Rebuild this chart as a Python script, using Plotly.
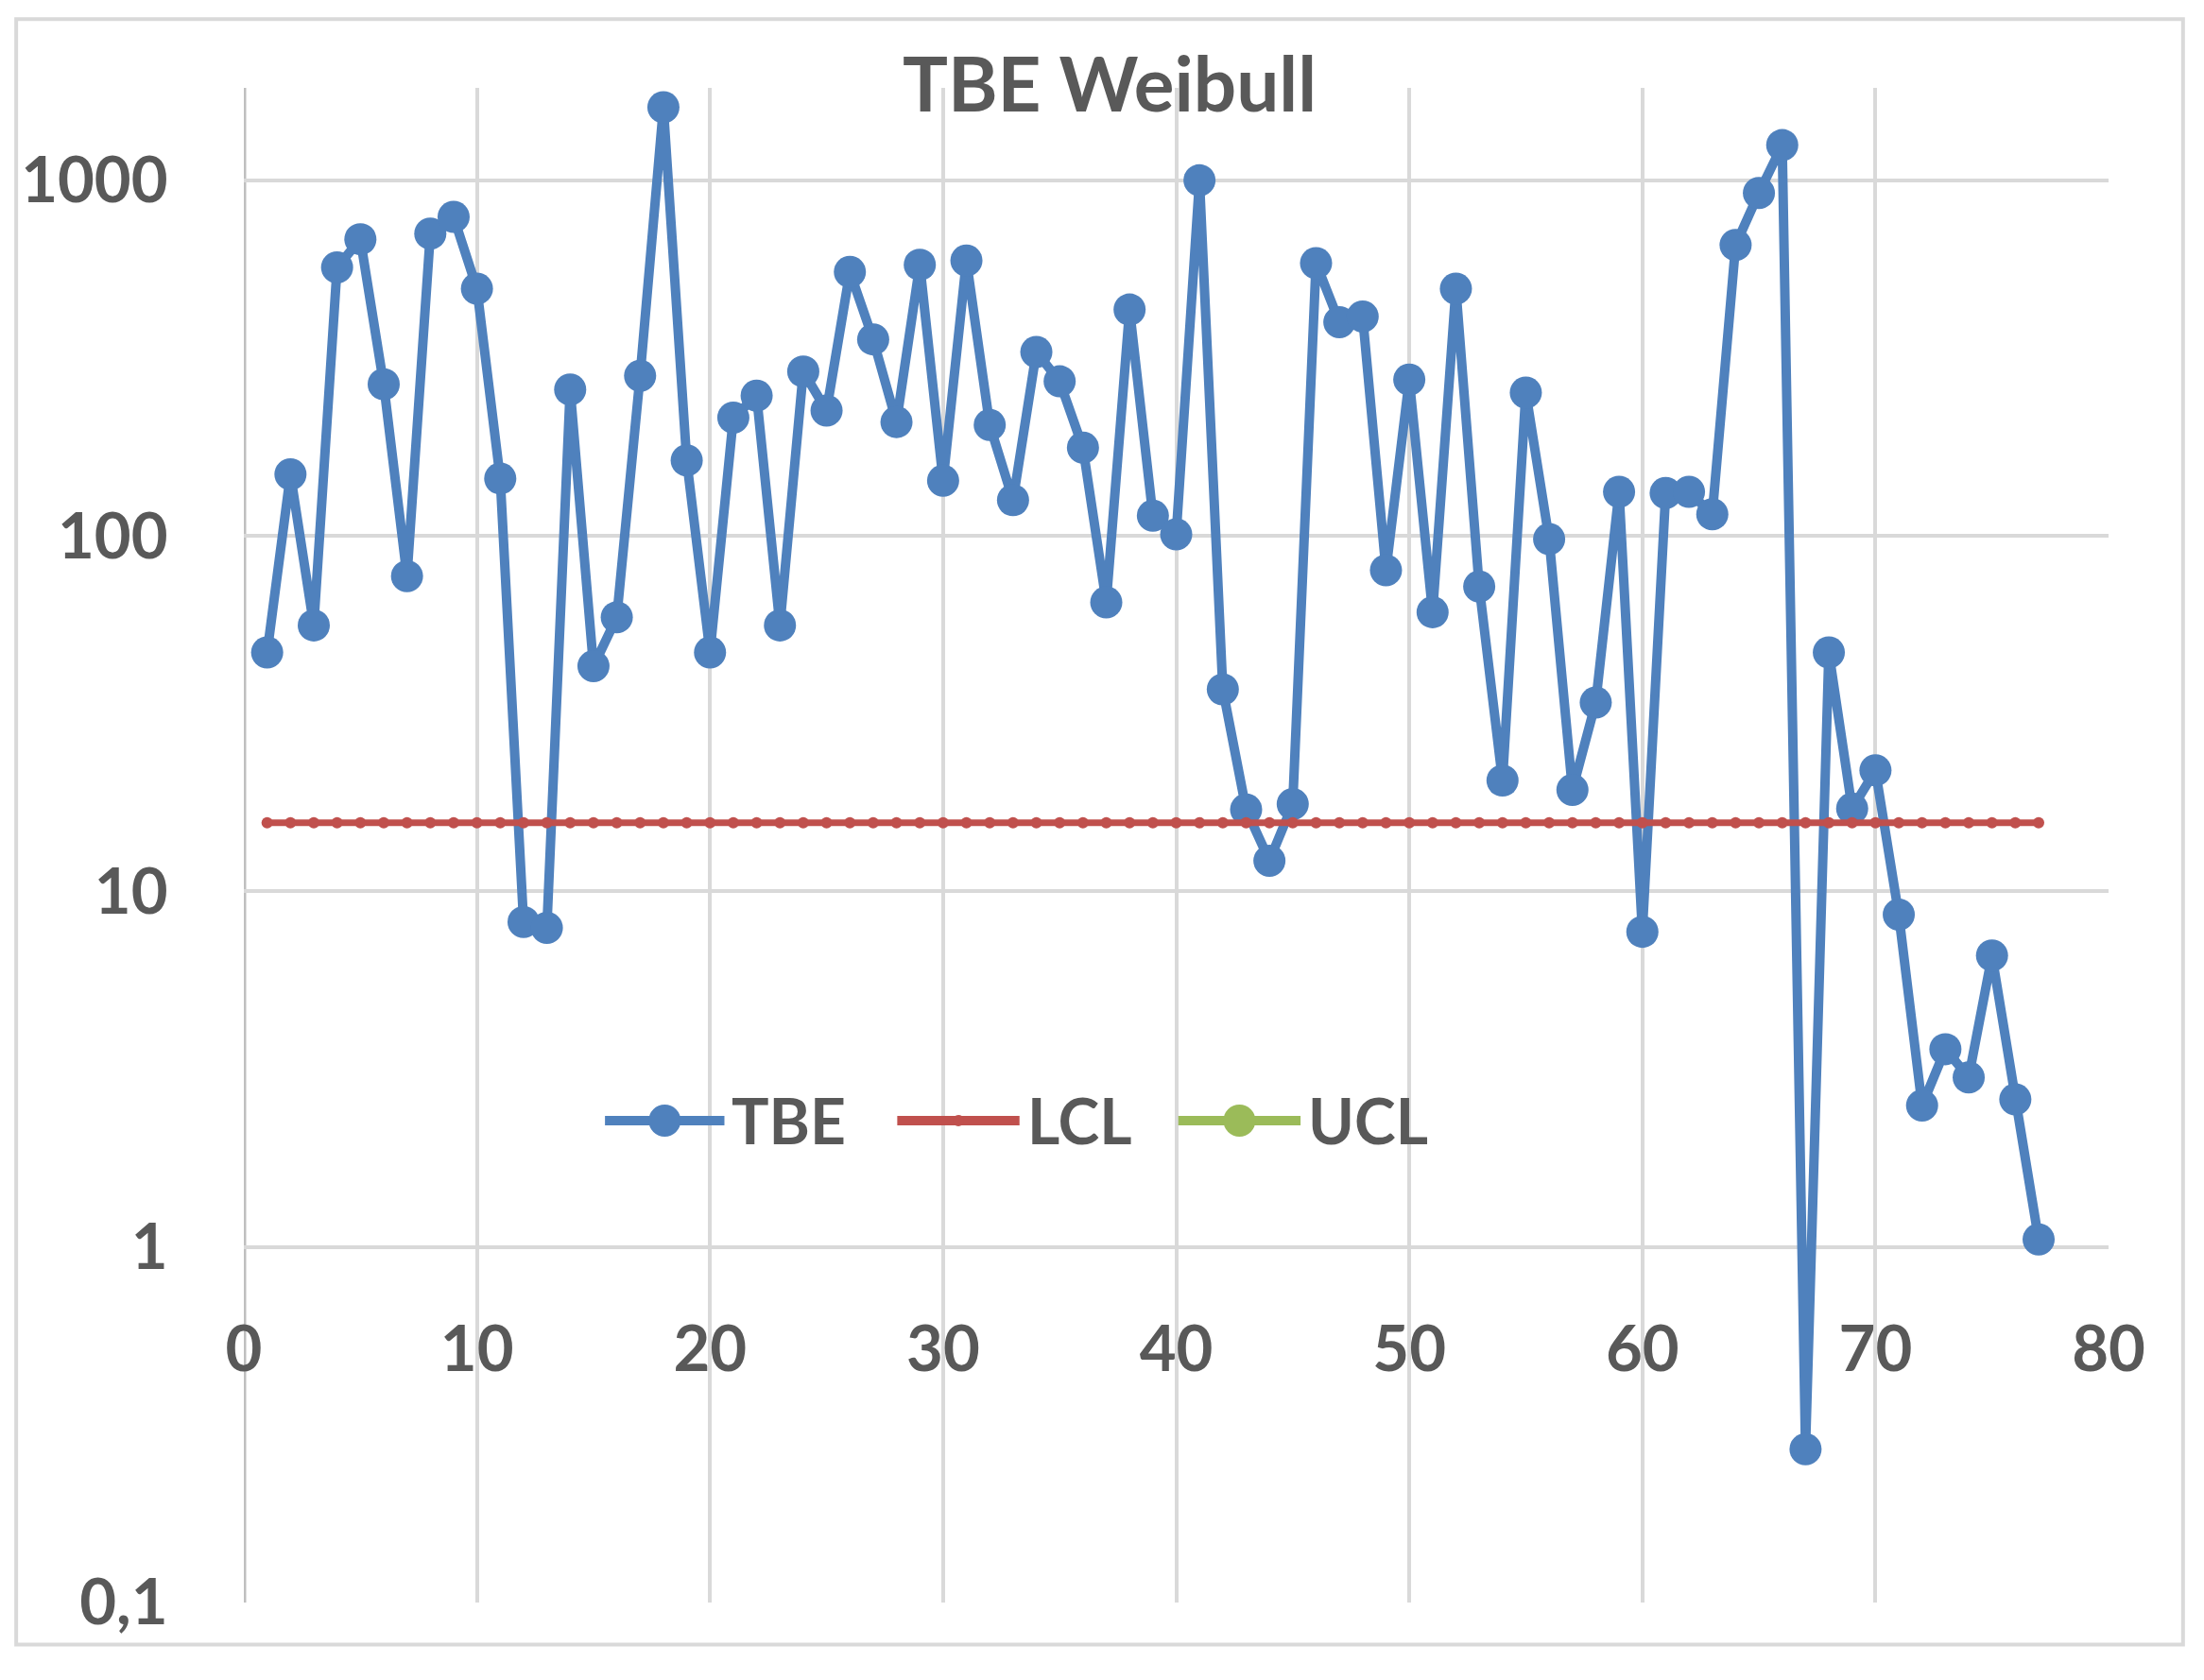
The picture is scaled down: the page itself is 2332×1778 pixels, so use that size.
import plotly.graph_objects as go

x_idx = list(range(1, 78))
tbe = [47, 149, 56, 569, 683, 267, 77, 708, 789, 496,
       145, 8.2, 7.9, 258, 43, 59, 282, 1605, 163, 47,
       215, 248, 56, 290, 225, 553, 357, 209, 579, 143,
       595, 205, 126, 329, 272, 177, 65, 433, 114, 101,
       1000, 37, 17, 12.2, 17.6, 585, 399, 414, 80, 275,
       61, 496, 72, 20.5, 253, 98, 19.3, 34, 133, 7.7,
       132, 133, 115, 658, 921, 1256, 0.27, 47, 17.1, 21.9,
       8.6, 2.5, 3.6, 3.0, 6.6, 2.6, 1.05]
lcl = [15.6] * 77
ucl = [None] * 77

series_names = ["TBE", "LCL", "UCL"]
series_colors = ["#4F81BD", "#C0504D", "#9BBB59"]

y_tickvals = [0.1, 1, 10, 100, 1000]
y_ticktext = ["<b>0,1</b>", "<b>1</b>", "<b>10</b>", "<b>100</b>", "<b>1000</b>"]
x_tickvals = [0, 10, 20, 30, 40, 50, 60, 70, 80]
x_ticktext = ["<b>%d</b>" % v for v in x_tickvals]

W, H = 2332, 1778
S, OFF = 1.487, -7

def o(d):
    return d * S + OFF

L, R, T, B = o(173), o(1500), o(62), o(1140)
ymin, ymax = -1.0, 3.26

def px(xp):
    return (xp - L) / (R - L)

def py(yp):
    return (B - yp) / (B - T)

txt = "#595959"
font = "Lato, Calibri, Carlito, sans-serif"

fig = go.Figure()
fig.add_trace(go.Scatter(x=x_idx, y=tbe, name=series_names[0], mode="lines+markers",
                         line=dict(color=series_colors[0], width=10),
                         marker=dict(color=series_colors[0], size=34)))
fig.add_trace(go.Scatter(x=x_idx, y=lcl, name=series_names[1], mode="lines+markers",
                         line=dict(color=series_colors[1], width=7),
                         marker=dict(color=series_colors[1], size=12)))
fig.add_trace(go.Scatter(x=x_idx, y=ucl, name=series_names[2], mode="lines+markers",
                         line=dict(color=series_colors[2], width=7),
                         marker=dict(color=series_colors[2], size=34)))

x_axis_pos = (0 - ymin) / (ymax - ymin)

fig.update_layout(
    width=W, height=H,
    margin=dict(l=L, r=W - R, t=T, b=H - B, pad=0),
    paper_bgcolor="white", plot_bgcolor="white",
    font=dict(family=font, color=txt, size=66),
    title=dict(text="<b>TBE Weibull</b>", x=0.5, xref="container", xanchor="center",
               y=1 - o(60) / H, yref="container", yanchor="middle",
               font=dict(size=80, color=txt, family=font)),
    showlegend=False,
    xaxis=dict(range=[0, 80], tickvals=x_tickvals, ticktext=x_ticktext, showgrid=True,
               gridcolor="#D9D9D9", gridwidth=4, zeroline=False, showline=False,
               anchor="free", position=x_axis_pos,
               ticks="outside", ticklen=50, tickcolor="rgba(0,0,0,0)",
               tickfont=dict(size=67, color=txt, family=font)),
    yaxis=dict(type="log", range=[ymin, ymax], tickvals=y_tickvals, ticktext=y_ticktext,
               showgrid=True, gridcolor="#D9D9D9", gridwidth=4, zeroline=False,
               showline=False, ticks="outside", ticklen=66, tickcolor="rgba(0,0,0,0)",
               tickfont=dict(size=67, color=txt, family=font)),
)

# axis lines (x=0 vertical, y=1 horizontal)
fig.add_shape(type="line", xref="x", yref="paper", x0=0, x1=0, y0=0, y1=1,
              line=dict(color="#BFBFBF", width=5), layer="below")
fig.add_shape(type="line", xref="paper", yref="y", x0=0, x1=1, y0=0, y1=0,
              line=dict(color="#BFBFBF", width=5), layer="below")
# chart border
fig.add_shape(type="rect", xref="paper", yref="paper",
              x0=px(o(11)), x1=px(o(1553)), y0=py(o(1170)), y1=py(o(13)),
              line=dict(color="#D9D9D9", width=4), fillcolor="rgba(0,0,0,0)", layer="below")

# legend (drawn in the Excel style: wide line symbol with a centred marker)
leg_y = py(o(797))
leg_items = [(430, 515, 34), (638, 725, 12), (838, 925, 34)]
for (x0d, x1d, msize), name, col in zip(leg_items, series_names, series_colors):
    xa, xb = px(o(x0d)), px(o(x1d))
    fig.add_shape(type="line", xref="paper", yref="paper", x0=xa, x1=xb, y0=leg_y, y1=leg_y,
                  line=dict(color=col, width=10))
    cx, cy = o((x0d + x1d) / 2), o(797)
    r = msize / 2
    fig.add_shape(type="circle", xref="paper", yref="paper",
                  x0=px(cx - r), x1=px(cx + r), y0=py(cy + r), y1=py(cy - r),
                  line=dict(color=col, width=0), fillcolor=col)
    fig.add_annotation(xref="paper", yref="paper", x=px(o(x1d + 4)), y=leg_y,
                       text="<b>%s</b>" % name, showarrow=False, xanchor="left",
                       yanchor="middle", font=dict(size=66, color=txt, family=font))

fig.write_html("out.html")
